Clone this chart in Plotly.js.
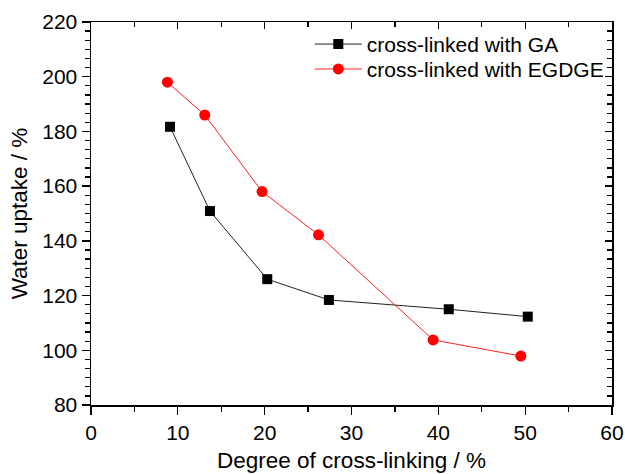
<!DOCTYPE html>
<html>
<head>
<meta charset="utf-8">
<script src="https://cdn.plot.ly/plotly-3.0.1.min.js"></script>
<style>html,body{margin:0;padding:0;background:#fff;}#chart{width:625px;height:474px;}</style>
</head>
<body>
<div id="chart"></div>
<script>
var gaX = [9.1, 13.7, 20.3, 27.4, 41.2, 50.3];
var gaY = [181.7, 150.9, 126.0, 118.4, 115.0, 112.3];
var egX = [8.8, 13.1, 19.7, 26.2, 39.4, 49.5];
var egY = [198.0, 186.0, 158.0, 142.2, 103.8, 97.9];
var xTicks = [0, 10, 20, 30, 40, 50, 60];
var yTicks = [80, 100, 120, 140, 160, 180, 200, 220];

var font = "Liberation Sans, Arial, sans-serif";

var traces = [
  {x: gaX, y: gaY, type: "scatter", mode: "lines+markers", name: "cross-linked with GA", legend: "legend",
   line: {color: "#222222", width: 1}, marker: {symbol: "square", size: 10, color: "#000000"}},
  {x: egX, y: egY, type: "scatter", mode: "lines+markers", name: "cross-linked with EGDGE", legend: "legend2",
   line: {color: "#ff2020", width: 1}, marker: {symbol: "circle", size: 11, color: "#ff0000"}},
  {x: [], y: [], xaxis: "x2", yaxis: "y2", showlegend: false, hoverinfo: "skip", type: "scatter"}
];

var legendBase = {xanchor: "left", yanchor: "top", bgcolor: "rgba(0,0,0,0)", itemwidth: 47,
                  font: {family: font, size: 21, color: "#000"}};

var layout = {
  width: 625, height: 474,
  margin: {l: 91, r: 13, t: 22, b: 69},
  paper_bgcolor: "#ffffff", plot_bgcolor: "#ffffff",
  font: {family: font, color: "#000000", size: 21},
  showlegend: true,
  legend: Object.assign({x: 0.42, y: 0.995}, legendBase),
  legend2: Object.assign({x: 0.42, y: 0.930}, legendBase),
  xaxis: {range: [0, 60], tickvals: xTicks, ticktext: xTicks.map(String), ticks: "outside", ticklen: 8, tickwidth: 1.3,
          tickcolor: "#000", showline: true, linecolor: "#000", linewidth: 1.5, showgrid: false, zeroline: false,
          tickfont: {family: font, size: 21},
          minor: {dtick: 5, tick0: 0, ticks: "outside", ticklen: 5, tickwidth: 1.3, tickcolor: "#000", showgrid: false},
          title: {text: "Degree of cross-linking / %", font: {family: font, size: 22.5}, standoff: 9}},
  yaxis: {range: [80, 220], tickvals: yTicks, ticktext: yTicks.map(String), ticks: "outside", ticklen: 8, tickwidth: 1.3,
          tickcolor: "#000", showline: true, linecolor: "#000", linewidth: 1.5, showgrid: false, zeroline: false,
          tickfont: {family: font, size: 21},
          minor: {dtick: 20/6, tick0: 80, ticks: "outside", ticklen: 5, tickwidth: 1.3, tickcolor: "#000", showgrid: false},
          title: {text: "Water uptake / %", font: {family: font, size: 22.5}, standoff: 8}},
  xaxis2: {overlaying: "x", side: "top", anchor: "y", range: [0, 60], dtick: 10, tick0: 0, ticks: "inside", ticklen: 7,
           tickwidth: 1.3, tickcolor: "#000", showline: true, linecolor: "#000", linewidth: 1.5, showgrid: false,
           zeroline: false, showticklabels: false,
           minor: {dtick: 5, tick0: 0, ticks: "inside", ticklen: 5, tickwidth: 1.3, tickcolor: "#000", showgrid: false}},
  yaxis2: {overlaying: "y", side: "right", anchor: "x", range: [80, 220], dtick: 20, tick0: 80, ticks: "inside", ticklen: 7,
           tickwidth: 1.3, tickcolor: "#000", showline: true, linecolor: "#000", linewidth: 1.5, showgrid: false,
           zeroline: false, showticklabels: false,
           minor: {dtick: 20/6, tick0: 80, ticks: "inside", ticklen: 5, tickwidth: 1.3, tickcolor: "#000", showgrid: false}}
};

Plotly.newPlot("chart", traces, layout, {displayModeBar: false, staticPlot: true});
</script>
</body>
</html>
